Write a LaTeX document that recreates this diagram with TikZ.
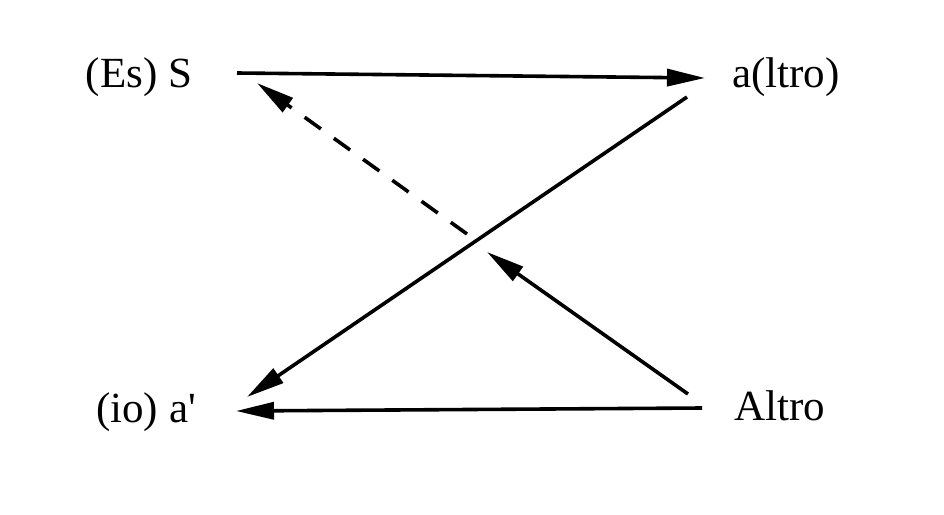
\documentclass[tikz,border=0pt]{standalone}
\usepackage{fontspec}
\setmainfont{Liberation Serif}[Ligatures=TeXOff]
\usetikzlibrary{arrows.meta}
\begin{document}
\begin{tikzpicture}[x=1pt,y=-1pt,
  lbl/.style={inner sep=0pt,anchor=base,font=\fontsize{43}{50}\selectfont},
  conn/.style={line width=3.6pt,-{Triangle[length=38pt,width=17pt]}},
  dashconn/.style={conn,dash pattern=on 20pt off 16pt}]
\useasboundingbox (0,0) rectangle (944,514);
\fill[white] (0,0) rectangle (944,514);
% labels
\node[lbl] (S) at (139,87) {(Es) S};
\node[lbl] (a) at (786,87) {a(ltro)};
\node[lbl] (ap) at (146,422) {(io) a'};
\node[lbl] (A) at (780,420) {Altro};
% connector ends
\coordinate (s1) at (237,73);
\coordinate (a1) at (705,78);
\coordinate (a2) at (687,97);
\coordinate (ap2) at (247,397);
\coordinate (A1) at (702,408);
\coordinate (ap1) at (236,411);
\coordinate (A2) at (688,394);
\coordinate (m1) at (487,252);
\coordinate (m2) at (467,234);
\coordinate (s2) at (257,83);
% connectors
\draw[conn] (s1) -- (a1);
\draw[conn] (a2) -- (ap2);
\draw[conn] (A1) -- (ap1);
\draw[conn] (A2) -- (m1);
\draw[dashconn] (m2) -- (s2);
\end{tikzpicture}
\end{document}
